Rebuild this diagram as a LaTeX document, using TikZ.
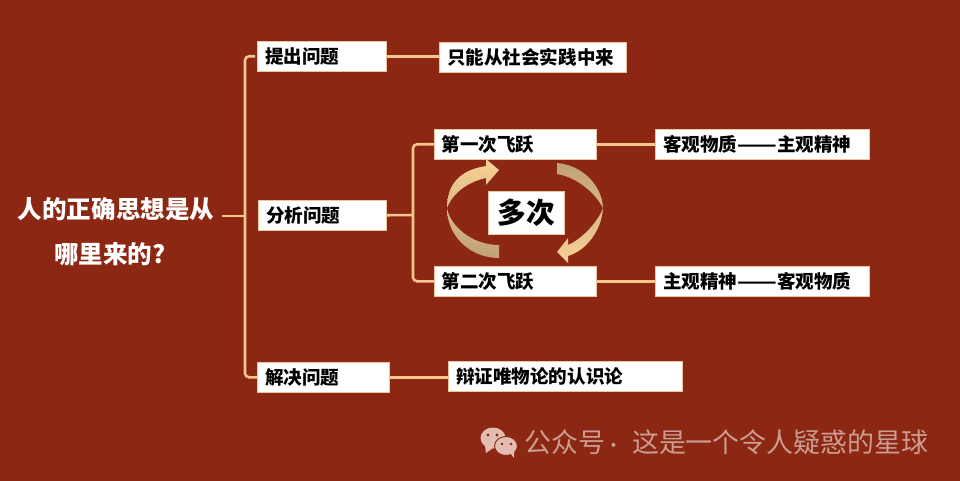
\documentclass[tikz,border=0pt]{standalone}
\usepackage{fontspec}
\setmainfont{Noto Sans CJK SC}
\definecolor{bgred}{HTML}{8B2712}
\definecolor{linec}{HTML}{F4C78E}
\definecolor{edgec}{HTML}{EBC4A0}
\definecolor{arrlight}{HTML}{F8D296}
\definecolor{arrdark}{HTML}{C0A076}
\definecolor{wmtext}{HTML}{CB9C8F}
\definecolor{wmicon}{HTML}{E2BDB1}
\newcommand{\widedash}{\scalebox{1.25}[1]{——}}
\tikzset{
  box/.style={draw=edgec,line width=.4pt,fill=white,anchor=north west,text=black,
    font=\bfseries\fontsize{13.9pt}{16pt}\selectfont,inner xsep=6pt,inner ysep=0pt,
    minimum height=22.5pt,align=left,text width=#1},
  conn/.style={draw=linec,line width=1.9pt},
  title/.style={text=white,font=\bfseries\fontsize{18.4pt}{22pt}\selectfont,inner sep=0pt},
}
\begin{document}
\begin{tikzpicture}[x=.75pt,y=-.75pt]
\fill[bgred] (0,0) rectangle (960,481);
\useasboundingbox (0,0) rectangle (960,481);

% root
\node[title] (rootA) at (116,209) {人的正确思想是从};
\node[title] (rootB) at (110,254) {哪里来的?};
\coordinate (rootout) at (222,216);
\coordinate (bus) at (245,216);

% boxes
\node[box=84.75pt] (p1) at (257,41) {提出问题};
\node[box=84pt] (p2) at (258,200) {分析问题};
\node[box=87pt] (p3) at (257,362) {解决问题};
\node[box=128.25pt] (a1) at (439,42) {只能从社会实践中来};
\node[box=110.5pt,inner xsep=5.5pt] (b1) at (434,129) {第一次飞跃};
\node[box=110.5pt,inner xsep=5.5pt] (b2) at (434,266) {第二次飞跃};
\node[box=148.5pt] (c1) at (655,129) {客观物质\widedash 主观精神};
\node[box=148.5pt] (c2) at (655,266) {主观精神\widedash 客观物质};
\node[box=163.5pt] (a3) at (448,361) {辩证唯物论的认识论};
\node[draw=edgec,line width=.4pt,fill=white,text=black,font=\bfseries\fontsize{21.5pt}{24pt}\selectfont,
  minimum width=57pt,minimum height=32pt,inner sep=0pt] (many) at (526,212.5) {多次};

% connectors
\draw[conn] (rootout) -- (bus);
\draw[conn,rounded corners=3pt,shorten <=1.5pt] (p1.west) -| (bus) |- (p3.west);
\draw[conn] (p1.east) -- (p1.east -| a1.west);
\coordinate (bus2) at (413,215);
\draw[conn] (p2.east) -- (bus2);
\draw[conn,rounded corners=3pt] (b1.west) -| (bus2) |- (b2.west);
\draw[conn] (b1.east) -- (c1.west);
\draw[conn] (b2.east) -- (c2.west);
\draw[conn] (p3.east) -- (p3.east -| a3.west);

% cycle arrows
\shade[top color=arrlight,bottom color=arrdark,middle color=arrlight!50!arrdark]
  (499,258) .. controls (470,258) and (447,236) .. (447,208)
  .. controls (447,184) and (460,170) .. (486,166)
  -- (486,159) -- (499,170) -- (486,185) -- (486,178)
  .. controls (472,181) and (454,190) .. (447,208)
  .. controls (450,226) and (472,245) .. (499,245) -- cycle;
\shade[top color=arrdark,bottom color=arrlight,middle color=arrlight!50!arrdark]
  (557,163) .. controls (582,165) and (602,185) .. (603,208)
  .. controls (602,228) and (588,250) .. (568,256)
  -- (568,263) -- (557,252) -- (568,238) -- (568,245)
  .. controls (580,240) and (597,224) .. (603,208)
  .. controls (597,196) and (580,178) .. (557,174) -- cycle;

% watermark
\fill[wmicon] (493,438) ellipse [x radius=12.5,y radius=10.5];
\fill[wmicon] (485,446) -- (486,453) -- (493,448) -- cycle;
\fill[wmicon,draw=bgred,line width=.7pt] (506,446) ellipse [x radius=11.5,y radius=9.5];
\fill[wmicon] (510,453) -- (514,458) -- (514,451) -- cycle;
\fill[bgred] (488,435) circle (1.6) (497,435) circle (1.6) (502,444) circle (1.4) (511,444) circle (1.4);
\node[text=wmtext,font=\fontsize{20.2pt}{22pt}\selectfont,anchor=west,inner sep=0pt] (wm) at (524,442) {公众号\makebox[20.25pt][c]{\scalebox{.7}{·}\kern7.5pt}这是一个令人疑惑的星球};
\end{tikzpicture}
\end{document}
